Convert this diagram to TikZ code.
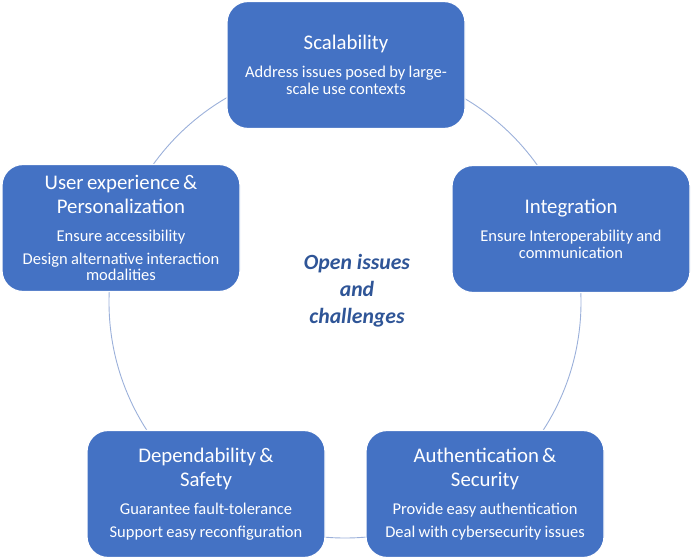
\documentclass[tikz,border=0pt]{standalone}
\usepackage{fontspec}
\setmainfont{Carlito}
\usepackage{xcolor}
\usetikzlibrary{positioning}
\definecolor{boxblue}{HTML}{4472C4}
\definecolor{ringblue}{HTML}{9BB0DA}
\definecolor{hubblue}{HTML}{2F5597}

\newcommand{\issuehead}[1]{{\fontsize{20.8}{24}\selectfont #1\par}}
\newcommand{\issueline}[2][6.5pt]{\vspace{#1}{\fontsize{16.5}{16.5}\selectfont #2\par}}

\tikzset{
    issue/.style={draw=white, line width=1.2pt, fill=boxblue, rounded corners=21pt,
        minimum width=238pt, minimum height=127pt, text=white,
        text width=232pt, align=center, inner sep=0pt},
    hubtext/.style={text=hubblue, font=\fontsize{21.7}{27}\selectfont\bfseries\itshape, align=center}
}

\begin{document}
\begin{tikzpicture}[x=1pt, y=-1pt]
\useasboundingbox (0,0) rectangle (691,559);

% ring behind the boxes
\coordinate (hub) at (345,302);
\draw[ringblue, line width=0.9pt] (hub) circle (236pt);

\node[hubtext] (center) at (357,291) {Open issues\\and\\challenges};

% === the five issues ===
\node[issue] (scal) at (346,65) {%
    \issuehead{Scalability}
    \issueline[11.5pt]{Address issues posed by large-\\scale use contexts}};

\node[issue] (integ) at (571,229) {%
    \issuehead{Integration}
    \issueline[11.5pt]{Ensure Interoperability and\\communication}};

\node[issue] (auth) at (485,494) {%
    \issuehead{Authentication \&\\Security}
    \issueline[11.5pt]{Provide easy authentication}
    \issueline{Deal with cybersecurity issues}};

\node[issue] (depend) at (206,494) {%
    \issuehead{Dependability \&\\Safety}
    \issueline[11.5pt]{Guarantee fault-tolerance}
    \issueline{Support easy reconfiguration}};

\node[issue] (userx) at (121,228) {%
    \issuehead{User experience \&\\Personalization}
    \issueline[11.5pt]{Ensure accessibility}
    \issueline{Design alternative interaction\\modalities}};

\end{tikzpicture}
\end{document}
